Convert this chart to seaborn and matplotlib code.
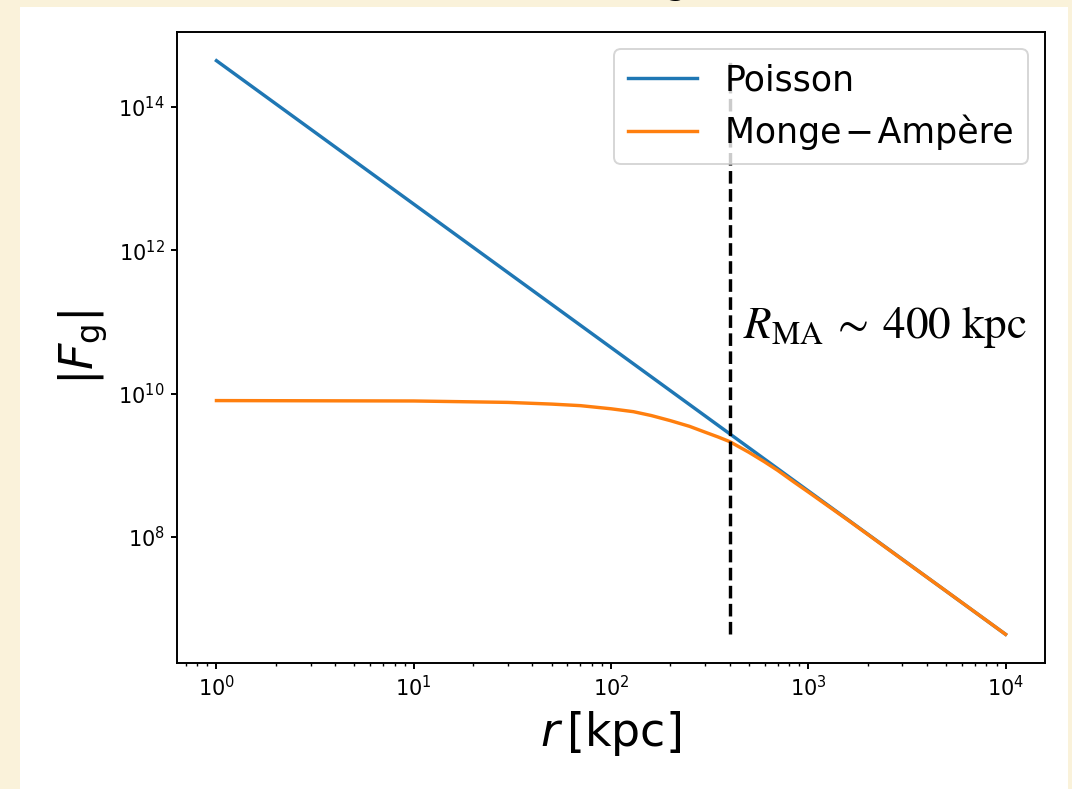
import numpy as np
import pandas as pd
import matplotlib
matplotlib.use("Agg")
import matplotlib.pyplot as plt
import matplotlib.ticker as mticker
from matplotlib.patches import Rectangle
import seaborn as sns

# Radial distance [kpc] and gravitational force magnitude for each model
r_poisson = [1.0, 10000.0]
F_poisson = [4.4e14, 4.4e6]

r_ma = [1, 10, 30, 50, 70, 100, 130, 160, 200, 250, 300, 350, 400, 500, 600,
        700, 850, 1000, 1300, 1600, 2000, 3000, 5000, 10000]
F_ma = [8.0e9, 7.9e9, 7.55e9, 7.15e9, 6.8e9, 6.15e9, 5.6e9, 4.95e9, 4.2e9,
        3.5e9, 2.9e9, 2.48e9, 2.14e9, 1.52e9, 1.12e9, 8.5e8, 5.8e8, 4.25e8,
        2.55e8, 1.70e8, 1.09e8, 4.86e7, 1.76e7, 4.4e6]

y_ticks = [1e8, 1e10, 1e12, 1e14]

series_labels = ["Poisson", "Monge\u200a\u2212\u200aAmpère"]
series_colors = ["#1f77b4", "#ff7f0e"]

R_MA = 400.0


def log_limits(values, pad=0.05):
    lo, hi = np.log10(min(values)), np.log10(max(values))
    span = hi - lo
    return 10 ** (lo - pad * span), 10 ** (hi + pad * span)


fig = plt.figure(figsize=(10.72, 7.89), dpi=100, facecolor="#faf2da")
# white canvas behind the plot
fig.patches.append(Rectangle((20 / 1072, 0), 1048 / 1072, 782 / 789,
                             transform=fig.transFigure, facecolor="white",
                             edgecolor="none", zorder=-5))
fig.text(0.6306, 1.008, "g", fontsize=26, ha="center", va="baseline",
         color="black", zorder=-4)

ax = fig.add_axes([177 / 1072, 126 / 789, 868 / 1072, 631 / 789])
ax.set_zorder(2)
ax.set_facecolor("white")
ax.set_xscale("log")
ax.set_yscale("log")

df_p = pd.DataFrame({"r": r_poisson, "F": F_poisson})
df_m = pd.DataFrame({"r": r_ma, "F": F_ma})
sns.lineplot(data=df_p, x="r", y="F", ax=ax, color=series_colors[0], lw=2.45,
             label=series_labels[0])
sns.lineplot(data=df_m, x="r", y="F", ax=ax, color=series_colors[1], lw=2.45,
             label=series_labels[1])

ax.set_xlim(*log_limits(r_poisson + r_ma))
ax.set_ylim(*log_limits(F_poisson + F_ma))
ax.set_yticks(y_ticks)
ax.yaxis.set_minor_locator(mticker.NullLocator())

ax.vlines(R_MA, min(F_poisson), max(F_poisson), colors="black",
          linestyles="--", lw=2.45)
ax.text(465, 6.0e10, r"$R_{\rm MA}\:\sim\:400\ {\rm kpc}$", fontsize=32.5,
        math_fontfamily="stix", va="baseline", ha="left")

ax.set_xlabel(r"$r\,[\mathrm{kpc}]$", fontsize=33, labelpad=6)
ax.set_ylabel(r"$|F_{\rm g}|$", fontsize=33, labelpad=6)

for s in ax.spines.values():
    s.set_linewidth(1.4)
    s.set_color("black")
ax.tick_params(which="major", length=4.4, width=1.4, labelsize=15, pad=4.4,
               direction="out", colors="black")
ax.tick_params(which="minor", length=2.5, width=1.0, direction="out")

leg = ax.legend(loc="upper right", fontsize=25, framealpha=0.8, fancybox=True)
leg.get_frame().set_linewidth(1.4)

fig.savefig("out.png", dpi=100, facecolor=fig.get_facecolor())
